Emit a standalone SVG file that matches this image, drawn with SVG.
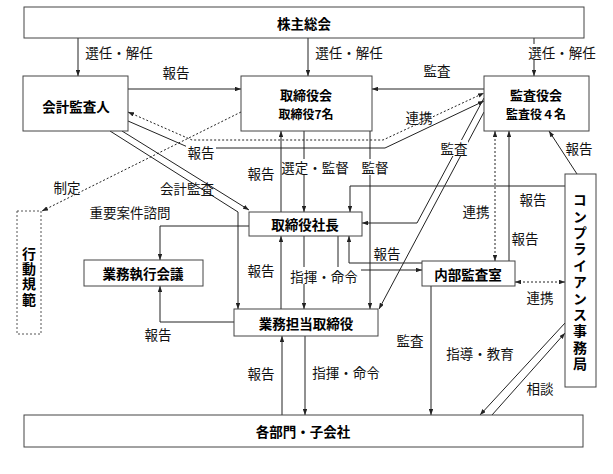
<svg xmlns="http://www.w3.org/2000/svg" width="613" height="474" viewBox="0 0 613 474">
<defs>
<marker id="ah" viewBox="0 0 8 6" refX="8" refY="3" markerWidth="6" markerHeight="4.5" markerUnits="userSpaceOnUse" orient="auto-start-reverse">
<path d="M0,0 L8,3 L0,6 z" fill="#222"/>
</marker>
<style>
.box{fill:#fff;stroke:#444;stroke-width:1}
.dbox{fill:#fff;stroke:#555;stroke-width:1;stroke-dasharray:2,2}
.n{font-family:"Noto Sans CJK JP","Noto Sans",sans-serif;font-weight:700;font-size:13.5px;fill:#000;text-anchor:middle;dominant-baseline:central}
.t{font-size:13px}
.s{font-size:12px}
.v{writing-mode:vertical-rl;text-anchor:middle}
.l{font-family:"Noto Sans CJK JP","Noto Sans",sans-serif;font-size:13.5px;fill:#111;text-anchor:middle;dominant-baseline:central}
.c{fill:none;stroke:#222;stroke-width:1}
.a{marker-end:url(#ah)}
.b{marker-start:url(#ah);marker-end:url(#ah)}
.d{stroke-dasharray:2,2}
.bg{fill:#fff}
</style>
</defs>
<rect width="613" height="474" fill="#fff"/>
<g id="connectors">
<path class="c a" d="M78,38 V76"/>
<path class="c a" d="M308,38 V76"/>
<path class="c a" d="M534,38 V76"/>
<path class="c a" d="M128,89 H241"/>
<path class="c a" d="M484,89 H372"/>
<path class="c b d" d="M128,112 L192,140 H383 L484,93"/>
<path class="c a" d="M128,121 L190,148 H385 L484,101"/>
<path class="c a d" d="M241,112 L42,211"/>
<path class="c a" d="M122,131 L249,210"/>
<path class="c a" d="M110,131 L238,212 V309"/>
<path class="c a" d="M281,212 V131"/>
<path class="c a" d="M304,131 V212"/>
<path class="c a" d="M370,131 V309"/>
<path class="c a" d="M484,98 L417,223 H362"/>
<path class="c a" d="M484,112 L379,309"/>
<path class="c a" d="M565,186 H350 V212"/>
<path class="c b d" d="M495,131 V261"/>
<path class="c a" d="M509,261 V131"/>
<path class="c a" d="M422,263 H349 V236"/>
<path class="c a" d="M338,236 V270 H422"/>
<path class="c a" d="M304,236 V309"/>
<path class="c a" d="M281,309 V236"/>
<path class="c a" d="M249,226 H160 V260"/>
<path class="c a" d="M234,322 H160 V286"/>
<path class="c a" d="M282,415 V336"/>
<path class="c a" d="M305,336 V415"/>
<path class="c a" d="M431,286 V415"/>
<path class="c a" d="M565,323 L480,415"/>
<path class="c a" d="M492,415 L565,333"/>
<path class="c b d" d="M515,282 H565"/>
<path class="c a" d="M577,174 L549,131"/>
</g>
<g id="labels">
<text class="l" x="119" y="52">選任・解任</text>
<text class="l" x="349" y="52">選任・解任</text>
<rect class="bg" x="527" y="44" width="70" height="16"/>
<text class="l" x="562" y="52">選任・解任</text>
<text class="l" x="176" y="72">報告</text>
<text class="l" x="437" y="70">監査</text>
<text class="l" x="419" y="117">連携</text>
<rect class="bg" x="186" y="144" width="30" height="16"/>
<text class="l" x="201" y="152">報告</text>
<rect class="bg" x="440" y="140" width="28" height="16"/>
<text class="l" x="454" y="148">監査</text>
<text class="l" x="579" y="148">報告</text>
<text class="l" x="261" y="173">報告</text>
<rect class="bg" x="284" y="159" width="62" height="16"/>
<text class="l" x="315" y="167">選定・監督</text>
<rect class="bg" x="361" y="159" width="28" height="16"/>
<text class="l" x="375" y="167">監督</text>
<text class="l" x="67" y="187">制定</text>
<text class="l" x="187" y="188">会計監査</text>
<text class="l" x="130" y="212">重要案件諮問</text>
<text class="l" x="476" y="211">連携</text>
<text class="l" x="533" y="199">報告</text>
<text class="l" x="525" y="238">報告</text>
<text class="l" x="387" y="253">報告</text>
<text class="l" x="261" y="270">報告</text>
<rect class="bg" x="289" y="267" width="72" height="17"/>
<text class="l" x="324" y="276">指揮・命令</text>
<text class="l" x="540" y="297">連携</text>
<text class="l" x="158" y="334">報告</text>
<text class="l" x="410" y="340">監査</text>
<text class="l" x="480" y="353">指導・教育</text>
<text class="l" x="261" y="373">報告</text>
<text class="l" x="346" y="372">指揮・命令</text>
<text class="l" x="540" y="388">相談</text>
</g>
<g id="n-kabunushi"><rect class="box" x="24" y="7" width="560" height="31"/><text class="n" x="304" y="23">株主総会</text></g>
<g id="n-kaikei"><rect class="box" x="23" y="76" width="105" height="55"/><text class="n" x="76" y="106">会計監査人</text></g>
<g id="n-torishimariyakukai"><rect class="box" x="241" y="76" width="131" height="55"/><text class="n t" x="306" y="94">取締役会</text><text class="n s" x="306" y="113">取締役7名</text></g>
<g id="n-kansayakukai"><rect class="box" x="484" y="76" width="105" height="55"/><text class="n t" x="536" y="94">監査役会</text><text class="n s" x="536" y="113">監査役４名</text></g>
<g id="n-shacho"><rect class="box" x="249" y="212" width="113" height="24"/><text class="n" x="305" y="224">取締役社長</text></g>
<g id="n-gyomushikko"><rect class="box" x="84" y="260" width="119" height="26"/><text class="n" x="143" y="273">業務執行会議</text></g>
<g id="n-gyomutanto"><rect class="box" x="234" y="309" width="144" height="27"/><text class="n" x="306" y="323">業務担当取締役</text></g>
<g id="n-naibu"><rect class="box" x="422" y="261" width="93" height="25"/><text class="n" x="468" y="274">内部監査室</text></g>
<g id="n-compliance"><rect class="box" x="565" y="174" width="31" height="213"/><text class="n v" x="580" y="283" style="font-size:14px;letter-spacing:2.4px">コンプライアンス事務局</text></g>
<g id="n-kodokihan"><rect class="dbox" x="17" y="211" width="24" height="123"/><text class="n v" x="29" y="277" style="font-size:14px;letter-spacing:1.2px">行動規範</text></g>
<g id="n-kakubumon"><rect class="box" x="24" y="415" width="559" height="32"/><text class="n" x="303" y="431">各部門・子会社</text></g>
</svg>
